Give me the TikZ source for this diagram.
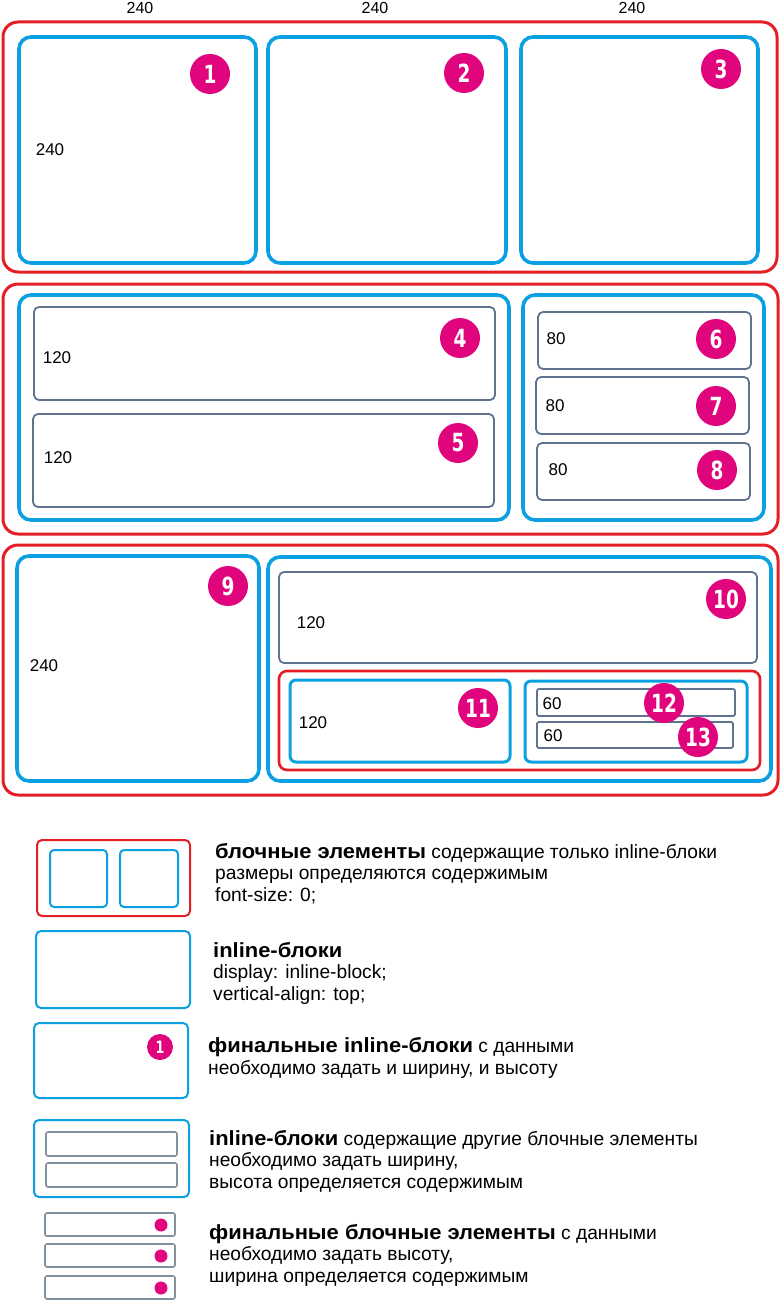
\documentclass[tikz,border=0pt]{standalone}
\usepackage{fontspec}
\setmainfont{Liberation Sans}
\newfontfamily\badgefont[FakeStretch=0.74]{DejaVu Sans}
\newfontfamily\legendfont[BoldFeatures={FakeStretch=1.07}]{Liberation Sans}
\newcommand\legendhead[1]{{\fontsize{20.5}{21.5}\selectfont\bfseries #1}}
\usetikzlibrary{positioning}

\definecolor{blockred}{RGB}{228,30,36}
\definecolor{inlineblue}{RGB}{10,160,225}
\definecolor{finalgray}{RGB}{95,115,145}
\definecolor{legendgray}{RGB}{130,145,160}
\definecolor{badgepink}{RGB}{225,5,125}

\tikzset{
  redbox/.style={draw=blockred, line width=3pt, rounded corners=15pt},
  bluebox/.style={draw=inlineblue, line width=3.6pt, rounded corners=12pt},
  graybox/.style={draw=finalgray, line width=1.8pt, rounded corners=5pt},
  legendred/.style={draw=blockred, line width=2pt, rounded corners=5pt},
  legendblue/.style={draw=inlineblue, line width=2pt, rounded corners=5pt},
  legendgraybox/.style={draw=legendgray, line width=1.6pt, rounded corners=2pt},
  badge/.style={circle, fill=badgepink, text=white, minimum size=40pt, inner sep=0pt,
    font=\badgefont\bfseries\fontsize{25}{25}\selectfont},
  dimlabel/.style={inner sep=0pt, font=\fontsize{17}{17}\selectfont},
  % anchor base = baseline of the last line
  legendtext/.style={anchor=base west, align=left, inner sep=0pt,
    font=\legendfont\fontsize{19.2}{21.5}\selectfont}
}

\begin{document}
\begin{tikzpicture}[x=1pt, y=-1pt]
  \useasboundingbox (0,0) rectangle (780,1300);

  % widths of the three columns
  \foreach \n/\x in {a/140, b/375, c/632}
    \node[dimlabel, font=\fontsize{16}{16}\selectfont] (top\n) at (\x,8) {240};

  % Row 1: block with three final inline blocks
  \draw[redbox] (3,22) rectangle (777,272);
  \draw[bluebox] (19,37) rectangle (256,263);
  \draw[bluebox] (268,37) rectangle (506,263);
  \draw[bluebox] (521,37) rectangle (758,263);

  % Row 2: two inline blocks holding final blocks
  \draw[redbox] (3,284) rectangle (778,534);
  \draw[bluebox] (19,295) rectangle (509,520);
  \draw[graybox] (34,307) rectangle (495,400);
  \draw[graybox] (33,414) rectangle (494,507);
  \draw[bluebox] (523,295) rectangle (764,520);
  \draw[graybox] (538,312) rectangle (751,369);
  \draw[graybox] (536,377) rectangle (749,434);
  \draw[graybox] (537,443) rectangle (750,500);

  % Row 3: nested case
  \draw[redbox] (3,545) rectangle (778,795);
  \draw[bluebox] (17,556) rectangle (259,781);
  \draw[bluebox] (268,557) rectangle (771,781);
  \draw[graybox] (279,572) rectangle (757,663);
  \draw[redbox, line width=2.6pt, rounded corners=8pt] (279,671) rectangle (760,770);
  \draw[bluebox, line width=3pt, rounded corners=6pt] (290,680) rectangle (510,762);
  \draw[bluebox, line width=3pt, rounded corners=6pt] (525,681) rectangle (747,762);
  \draw[graybox, rounded corners=2pt] (537,689) rectangle (735,716);
  \draw[graybox, rounded corners=2pt] (537,722) rectangle (733,748);

  % heights
  \foreach \n/\x/\y/\t in {h1/50/150/240, h4/57/358/120, h5/58/458/120,
      h6/556/339/80, h7/555/406/80, h8/558/470/80, h9/44/666/240,
      h10/311/623/120, h11/313/723/120, h12/552/704/60, h13/553/736/60}
    \node[dimlabel] (\n) at (\x,\y) {\t};

  % numbered badges
  \foreach \n/\x/\y in {1/210/74, 2/464/73, 3/721/69, 4/460/338, 5/458/443,
      6/716/339, 7/716/406, 8/717/470, 9/228/586, 10/726/599,
      11/478/708, 12/664/703, 13/698/737}
    \node[badge] (b\n) at (\x,\y) {\n};

  % legend
  \draw[legendred] (37,840) rectangle (190,916);
  \draw[legendblue, rounded corners=4pt] (50,850) rectangle (107,907);
  \draw[legendblue, rounded corners=4pt] (120,850) rectangle (178,907);
  \node[legendtext] (legA) at (215,901)
    {\legendhead{блочные элементы} содержащие только inline-блоки\\
     размеры определяются содержимым\\font-size: 0;};

  \draw[legendblue] (36,931) rectangle (190,1008);
  \node[legendtext] (legB) at (213,1000)
    {\legendhead{inline-блоки}\\display: inline-block;\\vertical-align: top;};

  \draw[legendblue] (34,1023) rectangle (188,1098);
  \node[badge, minimum size=26pt, font=\badgefont\bfseries\fontsize{17}{17}\selectfont]
    (legbadge) at (160,1047) {1};
  \node[legendtext] (legC) at (208,1074)
    {\legendhead{финальные inline-блоки} с данными\\
     необходимо задать и ширину, и высоту};

  \draw[legendblue] (34,1120) rectangle (189,1197);
  \draw[legendgraybox] (46,1132) rectangle (177,1156);
  \draw[legendgraybox] (46,1163) rectangle (177,1187);
  \node[legendtext] (legD) at (209,1188)
    {\legendhead{inline-блоки} содержащие другие блочные элементы\\
     необходимо задать ширину,\\высота определяется содержимым};

  \foreach \i/\y in {1/1213, 2/1244, 3/1276} {
    \draw[legendgraybox] (45,\y) rectangle (175,\y+23);
    \node[circle, fill=badgepink, minimum size=13pt, inner sep=0pt] (dot\i) at (161,\y+12) {};
  }
  \node[legendtext] (legE) at (209,1282)
    {\legendhead{финальные блочные элементы} с данными\\
     необходимо задать высоту,\\ширина определяется содержимым};
\end{tikzpicture}
\end{document}
